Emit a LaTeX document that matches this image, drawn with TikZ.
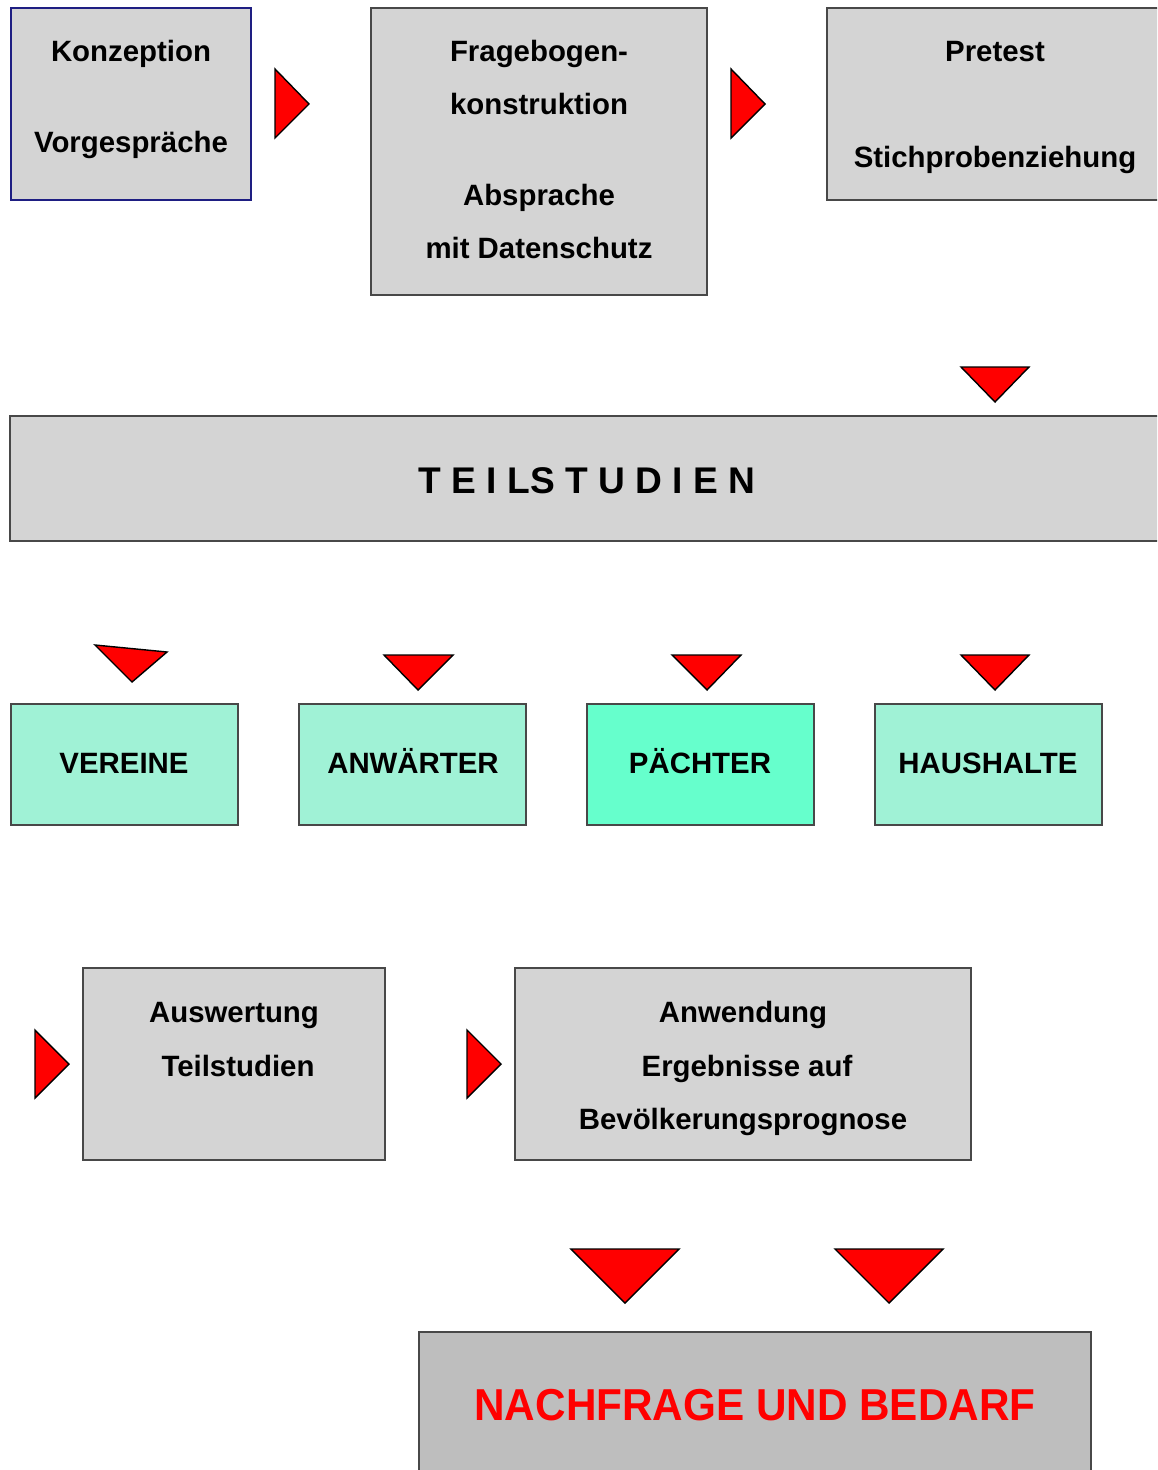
\documentclass[tikz,border=0pt]{standalone}
\usepackage{fontspec}
\setmainfont{Liberation Sans}
\usepackage{xcolor}
\usetikzlibrary{positioning}
\definecolor{boxgray}{RGB}{212,212,212}
\definecolor{boxline}{RGB}{72,72,72}
\definecolor{navyline}{RGB}{30,30,130}
\definecolor{mintlight}{RGB}{160,242,214}
\definecolor{mintfull}{RGB}{102,255,204}
\definecolor{resultgray}{RGB}{190,190,190}

\begin{document}
\begin{tikzpicture}[
    x=0.025cm, y=-0.025cm,
    box/.style={draw=boxline, line width=1.2pt, fill=boxgray, inner sep=0pt},
    mintbox/.style={box, fill=mintlight, minimum width=5.675cm, minimum height=3.025cm},
    txt/.style={anchor=base, inner sep=0pt, font=\bfseries\fontsize{20.9}{24}\selectfont},
    wedge/.style={draw=black, fill=red, line width=1pt, line join=miter}
]
    \useasboundingbox (0,0) rectangle (1157,1470);
    \clip (0,0) rectangle (1157,1470);

    % Boxes
    \node[box, draw=navyline, minimum width=6cm, minimum height=4.8cm] (konz) at (131,104) {};
    \node[box, minimum width=8.4cm, minimum height=7.175cm] (frage) at (539,151.5) {};
    \node[box, minimum width=8.5cm, minimum height=4.8cm] (pretest) at (997,104) {};
    \node[box, minimum width=29.1cm, minimum height=3.125cm] (teil) at (592,478.5) {};
    \node[mintbox] (vereine) at (124.5,764.5) {};
    \node[mintbox] (anwaerter) at (412.5,764.5) {};
    \node[mintbox, fill=mintfull] (paechter) at (700.5,764.5) {};
    \node[mintbox] (haushalte) at (988.5,764.5) {};
    \node[box, minimum width=7.55cm, minimum height=4.8cm] (ausw) at (234,1064) {};
    \node[box, minimum width=11.4cm, minimum height=4.8cm] (anw) at (743,1064) {};
    \node[box, fill=resultgray, minimum width=16.8cm, minimum height=4cm] (bedarf) at (755,1412) {};

    % Texts
    \node[txt] (konzT) at (131,62) {Konzeption};
    \node[txt] (vorgT) at (131,153) {Vorgespräche};
    \node[txt] (frageT) at (539,62) {Fragebogen-};
    \node[txt] (konstT) at (539,115) {konstruktion};
    \node[txt] (abspT) at (539,206) {Absprache};
    \node[txt] (datT) at (539,259) {mit Datenschutz};
    \node[txt] (preT) at (995,62) {Pretest};
    \node[txt] (stichT) at (995,168) {Stichprobenziehung};
    \node[txt, font=\bfseries\fontsize{26.4}{30}\selectfont] (teilT) at (587,493)
        {T E I LS T U D I E N};
    \node[txt] (vereineT) at (124,773) {VEREINE};
    \node[txt] (anwaerterT) at (413,773) {ANWÄRTER};
    \node[txt] (paechterT) at (700,773) {PÄCHTER};
    \node[txt] (haushalteT) at (988,773) {HAUSHALTE};
    \node[txt] (auswT) at (234,1022) {Auswertung};
    \node[txt] (teilstT) at (238,1076) {Teilstudien};
    \node[txt] (anwT) at (743,1022) {Anwendung};
    \node[txt] (ergT) at (747,1076) {Ergebnisse auf};
    \node[txt] (bevT) at (743,1129) {Bevölkerungsprognose};
    \node[txt, text=red, font=\bfseries\fontsize{31.8}{36}\selectfont] (bedarfT) at (755,1420)
        {\scalebox{0.945}[1]{NACHFRAGE UND BEDARF}};

    % Triangles
    \draw[wedge] (275,69) -- (309,104) -- (275,138) -- cycle;
    \draw[wedge] (731,69) -- (765,104) -- (731,138) -- cycle;
    \draw[wedge] (961,367) -- (1029,367) -- (995,402) -- cycle;
    \draw[wedge] (95,645) -- (167,652) -- (132,682) -- cycle;
    \draw[wedge] (384,655) -- (453,655) -- (418,690) -- cycle;
    \draw[wedge] (672,655) -- (741,655) -- (707,690) -- cycle;
    \draw[wedge] (961,655) -- (1029,655) -- (995,690) -- cycle;
    \draw[wedge] (35,1030) -- (69,1064) -- (35,1098) -- cycle;
    \draw[wedge] (467,1030) -- (501,1064) -- (467,1098) -- cycle;
    \draw[wedge] (571,1249) -- (679,1249) -- (625,1303) -- cycle;
    \draw[wedge] (835,1249) -- (943,1249) -- (889,1303) -- cycle;
\end{tikzpicture}
\end{document}
